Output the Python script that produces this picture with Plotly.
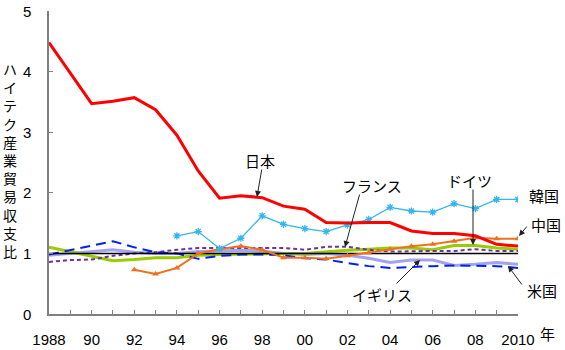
import plotly.graph_objects as go

years = list(range(1988, 2011))
japan = [4.48, 3.97, 3.47, 3.51, 3.57, 3.37, 2.95, 2.36, 1.91, 1.95, 1.92, 1.78,
         1.73, 1.51, 1.50, 1.51, 1.51, 1.37, 1.33, 1.33, 1.29, 1.15, 1.12]
korea_years = list(range(1994, 2011))
korea = [1.29, 1.36, 1.08, 1.25, 1.62, 1.48, 1.41, 1.36, 1.47, 1.56, 1.76, 1.70,
         1.68, 1.82, 1.74, 1.89, 1.89]
china_years = list(range(1992, 2011))
china = [0.73, 0.66, 0.76, 1.00, 1.07, 1.12, 1.06, 0.93, 0.93, 0.91, 0.96, 1.01,
         1.07, 1.12, 1.15, 1.20, 1.26, 1.24, 1.24]
germany = [1.10, 1.03, 0.96, 0.88, 0.90, 0.93, 0.93, 0.97, 0.98, 0.99, 1.00, 1.00,
           1.00, 1.03, 1.05, 1.07, 1.09, 1.09, 1.06, 1.13, 1.13, 1.09, 1.07]
france = [0.86, 0.89, 0.90, 0.96, 1.00, 1.02, 1.06, 1.09, 1.09, 1.09, 1.09, 1.09,
          1.06, 1.11, 1.11, 1.06, 1.03, 1.04, 1.04, 1.04, 1.07, 1.04, 1.04]
usa = [0.98, 1.05, 1.13, 1.20, 1.10, 1.02, 1.00, 0.91, 0.96, 0.98, 0.98, 0.97,
       0.92, 0.90, 0.84, 0.79, 0.76, 0.78, 0.79, 0.80, 0.80, 0.79, 0.76]
uk = [0.97, 1.00, 1.02, 1.06, 1.02, 1.00, 1.00, 1.03, 1.04, 1.05, 1.04, 1.00,
      0.98, 1.00, 0.97, 0.92, 0.85, 0.89, 0.89, 0.80, 0.82, 0.85, 0.82]
parity = 1.0

tick_vals = list(range(1988, 2011, 2))
tick_text = ["1988", "90", "92", "94", "96", "98", "00", "02", "04", "06", "08", "2010"]
y_ticks = [0, 1, 2, 3, 4, 5]
y_title = "ハイテク産業貿易収支比"

JP = "Noto Sans CJK JP"
NUM = "Liberation Sans, Arial"
AXIS = "#7f7f7f"

W, H = 565, 350
ML, MR, MT, MB = 49, 47, 11, 36
PW, PH = W - ML - MR, H - MT - MB


def px(x):
    return (x - ML) / PW


def py(y):
    return (H - MB - y) / PH


fig = go.Figure()
fig.add_trace(go.Scatter(x=years, y=uk, mode="lines", line=dict(color="#A3A3F2", width=3)))
fig.add_trace(go.Scatter(x=years, y=germany, mode="lines", line=dict(color="#99CC00", width=3)))
fig.add_trace(go.Scatter(x=years, y=france, mode="lines", line=dict(color="#7030A0", width=2, dash="4px,3px")))
fig.add_trace(go.Scatter(x=years, y=usa, mode="lines", line=dict(color="#0022EE", width=2, dash="10px,6px")))
fig.add_trace(go.Scatter(x=[years[0], years[-1]], y=[parity, parity], mode="lines",
                         line=dict(color="#000000", width=1.5)))
fig.add_trace(go.Scatter(x=china_years, y=china, mode="lines+markers",
                         line=dict(color="#EE7020", width=2),
                         marker=dict(symbol="triangle-up", size=6, color="#EE7020")))
fig.add_trace(go.Scatter(x=korea_years, y=korea, mode="lines+markers",
                         line=dict(color="#33B5EE", width=1.3),
                         marker=dict(symbol="asterisk-open", size=6, line=dict(color="#33B5EE", width=1.3))))
fig.add_trace(go.Scatter(x=years, y=japan, mode="lines", line=dict(color="#FF0000", width=3)))

# y tick labels, placed on the y axis scale
for v in y_ticks:
    fig.add_annotation(x=px(33), y=v, xref="paper", yref="y", text=str(v), showarrow=False,
                       xanchor="right", yanchor="middle",
                       font=dict(family=NUM, size=15, color="black"))

# text labels (pixel centres)
labels = [
    ("日本", 259.5, 160),
    ("フランス", 372, 185),
    ("ドイツ", 469, 180),
    ("韓国", 544, 196),
    ("中国", 546, 224),
    ("米国", 542, 290),
    ("イギリス", 382, 294),
    ("年", 547, 333),
]
for t, x, y in labels:
    fig.add_annotation(x=px(x), y=py(y), xref="paper", yref="paper", text=t, showarrow=False,
                       xanchor="center", yanchor="middle",
                       font=dict(family=JP, size=15, color="black"))

# arrows (tail pixel -> head pixel)
arrows = [
    (262, 168, 257, 197),
    (360, 193, 345, 247),
    (473, 188, 473, 245),
    (528, 225, 519, 236),
    (523, 286, 508, 266),
    (395, 285, 420, 260),
]
for ax, ay, x, y in arrows:
    fig.add_annotation(x=px(x), y=py(y), ax=ax - x, ay=ay - y, xref="paper", yref="paper",
                       axref="pixel", ayref="pixel",
                       text="", showarrow=True, arrowhead=2, arrowsize=1.2, arrowwidth=1,
                       arrowcolor="#222222", standoff=0, startstandoff=0)

fig.add_annotation(x=px(10), y=py(160), xref="paper", yref="paper", text="<br>".join(y_title),
                   showarrow=False, xanchor="center", yanchor="middle",
                   font=dict(family=JP, size=14, color="black"))

fig.update_layout(
    width=W, height=H,
    margin=dict(l=ML, r=MR, t=MT, b=MB, pad=0, autoexpand=False),
    plot_bgcolor="white", paper_bgcolor="white",
    showlegend=False,
    xaxis=dict(range=[1988, 2010], tickvals=tick_vals, ticktext=tick_text,
               ticks="inside", ticklen=4, tickcolor=AXIS, automargin=False,
               showline=True, linecolor=AXIS, linewidth=1.5, showgrid=False, zeroline=False,
               tickfont=dict(family=NUM, size=15, color="black"), ticklabelstandoff=11,
               minor=dict(dtick=1, tick0=1988, ticks="inside", ticklen=4, tickcolor=AXIS)),
    yaxis=dict(range=[0, 5], tickvals=y_ticks, ticks="inside", ticklen=4,
               tickcolor=AXIS, showline=True, linecolor=AXIS, linewidth=1.5,
               showgrid=False, zeroline=False, automargin=False, showticklabels=False),
)
fig.write_html("out.html")
